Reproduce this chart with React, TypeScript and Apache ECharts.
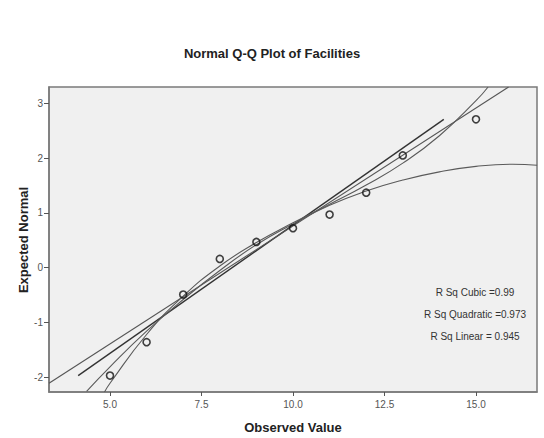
import React, { useEffect, useRef } from "react";
import * as echarts from "echarts";

// Observed values and their expected normal scores
const observed = [5, 6, 7, 8, 9, 10, 11, 12, 13, 15];
const expectedNormal = [-1.97, -1.36, -0.49, 0.16, 0.47, 0.72, 0.97, 1.37, 2.05, 2.71];

// Axis ticks
const xTicks = [5.0, 7.5, 10.0, 12.5, 15.0];
const yTicks = [-2, -1, 0, 1, 2, 3];

// Normal reference line (end points)
const refLineX = [4.13, 14.12];
const refLineY = [-1.97, 2.71];

// Fitted linear trend (end points)
const linearX = [3.333, 15.89];
const linearY = [-2.11, 3.3];

// Fitted quadratic trend (sampled)
const quadX = [4.36, 5, 6, 7, 8, 9, 10, 11, 12, 13, 14, 15, 16, 16.67];
const quadY = [-2.26, -1.81, -1.16, -0.58, -0.05, 0.42, 0.8, 1.14, 1.4, 1.6, 1.75, 1.85, 1.89, 1.87];

// Fitted cubic trend (sampled)
const cubicX = [4.85, 5, 6, 7, 8, 9, 10, 11, 12, 13, 14, 15, 15.33];
const cubicY = [-2.27, -2.11, -1.22, -0.52, 0.03, 0.46, 0.82, 1.16, 1.51, 1.91, 2.41, 3.05, 3.3];

// Fit statistics
const rSqLabels = ["R Sq Cubic =0.99", "R Sq Quadratic =0.973", "R Sq Linear = 0.945"];

const FONT = "'Liberation Sans', Arial, Helvetica, sans-serif";

const zip = (xs: number[], ys: number[]) => xs.map((x, i) => [x, ys[i]]);

export default function App() {
  const ref = useRef<HTMLDivElement>(null);

  useEffect(() => {
    if (!ref.current) return;
    const chart = echarts.init(ref.current, undefined, { renderer: "svg" });

    const fitLine = (name: string, data: number[][], color: string, width: number, smooth: boolean) => ({
      name,
      type: "line",
      data,
      showSymbol: false,
      symbol: "none",
      smooth,
      clip: true,
      silent: true,
      lineStyle: { color, width },
      z: 2,
    });

    chart.setOption({
      animation: false,
      backgroundColor: "#ffffff",
      grid: {
        left: 49,
        top: 87,
        right: 7,
        bottom: 46,
        show: true,
        backgroundColor: "#f0f0f0",
        borderColor: "#7a7a7a",
        borderWidth: 1.5,
      },
      xAxis: {
        type: "value",
        min: 10 / 3,
        max: 50 / 3,
        splitLine: { show: false },
        axisLine: { show: true, onZero: false, lineStyle: { color: "#7a7a7a", width: 1.5 } },
        axisTick: {
          show: true,
          length: 4,
          customValues: xTicks,
          lineStyle: { color: "#555" },
        },
        axisLabel: {
          customValues: xTicks,
          formatter: (v: number) => v.toFixed(1),
          color: "#555",
          fontSize: 10,
          fontFamily: FONT,
          margin: 7,
        },
      },
      yAxis: {
        type: "value",
        min: -2.27,
        max: 3.3,
        splitLine: { show: false },
        axisLine: { show: true, onZero: false, lineStyle: { color: "#7a7a7a", width: 1.5 } },
        axisTick: {
          show: true,
          length: 5,
          customValues: yTicks,
          lineStyle: { color: "#555" },
        },
        axisLabel: {
          customValues: yTicks,
          formatter: (v: number) => String(v),
          color: "#555",
          fontSize: 10,
          fontFamily: FONT,
          margin: 6,
        },
      },
      series: [
        fitLine("Reference", zip(refLineX, refLineY), "#333333", 1.4, false),
        fitLine("Linear", zip(linearX, linearY), "#555555", 1.1, false),
        fitLine("Quadratic", zip(quadX, quadY), "#5a5a5a", 1.1, true),
        fitLine("Cubic", zip(cubicX, cubicY), "#5a5a5a", 1.1, true),
        {
          name: "Observed",
          type: "scatter",
          data: zip(observed, expectedNormal),
          symbol: "circle",
          symbolSize: 7,
          itemStyle: { color: "rgba(0,0,0,0)", borderColor: "#111", borderWidth: 1.6 },
          silent: true,
          z: 3,
        },
      ],
      graphic: [
        {
          type: "text",
          x: 272,
          y: 53,
          style: {
            text: "Normal Q-Q Plot of Facilities",
            font: `bold 13px ${FONT}`,
            fill: "#222",
            textAlign: "center",
            textVerticalAlign: "middle",
          },
        },
        {
          type: "text",
          x: 293,
          y: 427,
          style: {
            text: "Observed Value",
            font: `bold 13px ${FONT}`,
            fill: "#222",
            textAlign: "center",
            textVerticalAlign: "middle",
          },
        },
        {
          type: "text",
          x: 23,
          y: 240,
          rotation: Math.PI / 2,
          style: {
            text: "Expected Normal",
            font: `bold 13px ${FONT}`,
            fill: "#222",
            textAlign: "center",
            textVerticalAlign: "middle",
          },
        },
        ...rSqLabels.map((t, i) => ({
          type: "text",
          x: 475,
          y: 292 + i * 22,
          style: {
            text: t,
            font: `10px ${FONT}`,
            fill: "#333",
            textAlign: "center",
            textVerticalAlign: "middle",
          },
        })),
      ],
    });

    return () => chart.dispose();
  }, []);

  return (
    <div
      ref={ref}
      style={{ position: "fixed", left: 0, top: 0, width: 544, height: 438, background: "#fff" }}
    />
  );
}
